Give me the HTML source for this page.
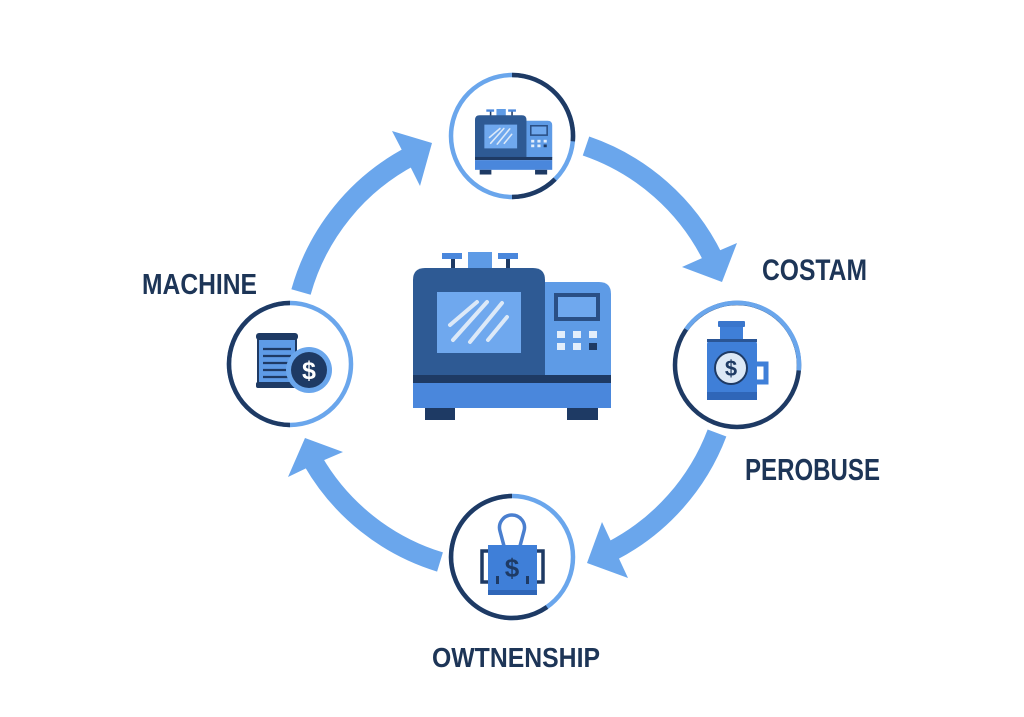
<!DOCTYPE html>
<html>
<head>
<meta charset="utf-8">
<style>
  html,body{margin:0;padding:0;background:#ffffff;}
  body{width:1024px;height:717px;overflow:hidden;}
  svg{display:block;}
  .lbl{font-family:"Liberation Sans",Arial,sans-serif;font-weight:bold;fill:#1d3557;}
  .dol{font-family:"Liberation Sans",Arial,sans-serif;font-weight:bold;}
</style>
</head>
<body>
<svg width="1024" height="717" viewBox="0 0 1024 717" xmlns="http://www.w3.org/2000/svg">
  <defs>
    <g id="machine">
      <rect x="38" y="5" width="4" height="12" fill="#1e3a64"/>
      <rect x="93" y="5" width="4" height="12" fill="#1e3a64"/>
      <rect x="29" y="1" width="20" height="6" fill="#4a87dc"/>
      <rect x="85" y="1" width="20" height="6" fill="#4a87dc"/>
      <rect x="55" y="0" width="24" height="17" fill="#5e9be6"/>
      <path d="M132,30 H186 Q198,30 198,42 V125 H132 Z" fill="#5e9be6"/>
      <path d="M0,28 Q0,16 12,16 H120 Q132,16 132,28 V125 H0 Z" fill="#2e5a94"/>
      <rect x="24" y="40" width="84" height="61" fill="#6fa8ee"/>
      <g stroke="#dce9f8" stroke-width="4" stroke-linecap="round">
        <line x1="37" y1="73" x2="64" y2="50"/>
        <line x1="40" y1="88" x2="74" y2="50"/>
        <line x1="57" y1="90" x2="89" y2="51"/>
        <line x1="75" y1="88" x2="94" y2="65"/>
      </g>
      <rect x="141" y="41" width="46" height="28" fill="#2a4f85"/>
      <rect x="145" y="45" width="38" height="20" fill="#6fa8ee"/>
      <g fill="#e3eefb">
        <rect x="144" y="79" width="8" height="7"/>
        <rect x="160" y="79" width="8" height="7"/>
        <rect x="176" y="79" width="8" height="7"/>
        <rect x="144" y="91" width="8" height="7"/>
        <rect x="160" y="91" width="8" height="7"/>
      </g>
      <rect x="176" y="91" width="8" height="7" fill="#1e3a64"/>
      <rect x="0" y="123" width="198" height="8" fill="#1e3a64"/>
      <rect x="0" y="131" width="198" height="25" fill="#4a87dc"/>
      <rect x="12" y="156" width="30" height="12" fill="#1e3a64"/>
      <rect x="154" y="156" width="31" height="12" fill="#1e3a64"/>
    </g>
  </defs>

  <!-- Arrows -->
  <g fill="none" stroke="#6aa6ec" stroke-width="20" stroke-linecap="butt">
    <path d="M301,292 A221,221 0 0 1 411,156"/>
    <path d="M586,146 A221,221 0 0 1 713,258"/>
    <path d="M717,433 A221,221 0 0 1 612,551"/>
    <path d="M440,562 A221,221 0 0 1 313,461"/>
  </g>
  <g fill="#6aa6ec">
    <polygon points="432,143 392,131 406,158 420,186"/>
    <polygon points="722,282 682,267 709,255 737,243"/>
    <polygon points="587,563 602,522 615,550 628,578"/>
    <polygon points="305,438 288,477 315,464 343,452"/>
  </g>

  <!-- Top node -->
  <circle cx="512" cy="136" r="61" fill="#ffffff" stroke="#6aa6ec" stroke-width="4.5"/>
  <path d="M512,75 A61,61 0 0 1 572.8,141.3" fill="none" stroke="#1e3a64" stroke-width="4.5"/>
  <path d="M555.1,179.1 A61,61 0 0 1 512,197" fill="none" stroke="#1e3a64" stroke-width="4.5"/>
  <use href="#machine" transform="translate(475,109) scale(0.39)"/>

  <!-- Right node -->
  <circle cx="737" cy="365" r="62" fill="#ffffff" stroke="#1e3a64" stroke-width="4.5"/>
  <path d="M686.2,329.4 A62,62 0 0 1 798.8,370.4" fill="none" stroke="#6aa6ec" stroke-width="4.5"/>
  <rect x="720" y="324" width="23" height="17" fill="#3f7fd8"/>
  <rect x="718" y="321" width="27" height="6" rx="1" fill="#3a76cc"/>
  <path d="M757,364 H766 V382 H757" fill="none" stroke="#3f7fd8" stroke-width="5"/>
  <rect x="707" y="340" width="50" height="60" rx="4" fill="#3f7fd8"/>
  <rect x="707" y="339" width="50" height="3" fill="#2a5595"/>
  <rect x="707" y="392" width="50" height="8" fill="#2f66b8"/>
  <circle cx="731" cy="368" r="16" fill="#dce8f6" stroke="#1e3a64" stroke-width="2"/>
  <text class="dol" x="731" y="376" text-anchor="middle" font-size="22" fill="#1e3a64">$</text>

  <!-- Bottom node -->
  <circle cx="512" cy="557" r="61" fill="#ffffff" stroke="#6aa6ec" stroke-width="4.5"/>
  <path d="M547,607 A61,61 0 1 1 512,496" fill="none" stroke="#1e3a64" stroke-width="4.5"/>
  <path d="M504,546 L500,531 A12.5,12.5 0 1 1 524,531 L520,546" fill="none" stroke="#4a7fcf" stroke-width="3.5"/>
  <rect x="488" y="545" width="49" height="50" fill="#3f7fd8"/>
  <rect x="488" y="590" width="49" height="5" fill="#2f66b8"/>
  <path d="M488,551 H482 V582 H488" fill="none" stroke="#1e3a64" stroke-width="3.5"/>
  <path d="M537,551 H543 V582 H537" fill="none" stroke="#1e3a64" stroke-width="3.5"/>
  <text class="dol" x="512" y="577" text-anchor="middle" font-size="26" fill="#1e3a64">$</text>
  <rect x="496" y="576" width="3" height="8" fill="#1e3a64"/>
  <rect x="526" y="576" width="3" height="8" fill="#1e3a64"/>

  <!-- Left node -->
  <circle cx="290" cy="364" r="61" fill="#ffffff" stroke="#6aa6ec" stroke-width="4.5"/>
  <path d="M290,425 A61,61 0 0 1 290,303" fill="none" stroke="#1e3a64" stroke-width="4.5"/>
  <rect x="258" y="336" width="38" height="50" fill="#5e9be6" stroke="#1e3a64" stroke-width="2"/>
  <rect x="256" y="333" width="42" height="7" rx="3" fill="#1e3a64"/>
  <rect x="256" y="382" width="42" height="6" rx="2" fill="#1e3a64"/>
  <g stroke="#1e3a64" stroke-width="2.2">
    <line x1="263" y1="349" x2="291" y2="349"/>
    <line x1="263" y1="356" x2="291" y2="356"/>
    <line x1="263" y1="363" x2="291" y2="363"/>
    <line x1="263" y1="370" x2="291" y2="370"/>
    <line x1="263" y1="377" x2="291" y2="377"/>
  </g>
  <circle cx="309" cy="370" r="23" fill="#6aa6ec"/>
  <circle cx="309" cy="370" r="18" fill="#1e3a64"/>
  <text class="dol" x="309" y="379" text-anchor="middle" font-size="25" fill="#ffffff">$</text>

  <!-- Central machine -->
  <use href="#machine" transform="translate(413,252)"/>

  <!-- Labels -->
  <text class="lbl" x="142" y="294" font-size="29" textLength="115" lengthAdjust="spacingAndGlyphs">MACHINE</text>
  <text class="lbl" x="762" y="280" font-size="30" textLength="105" lengthAdjust="spacingAndGlyphs">COSTAM</text>
  <text class="lbl" x="745" y="480" font-size="31" textLength="135" lengthAdjust="spacingAndGlyphs">PEROBUSE</text>
  <text class="lbl" x="432" y="667" font-size="28" textLength="168" lengthAdjust="spacingAndGlyphs">OWTNENSHIP</text>
</svg>
</body>
</html>
